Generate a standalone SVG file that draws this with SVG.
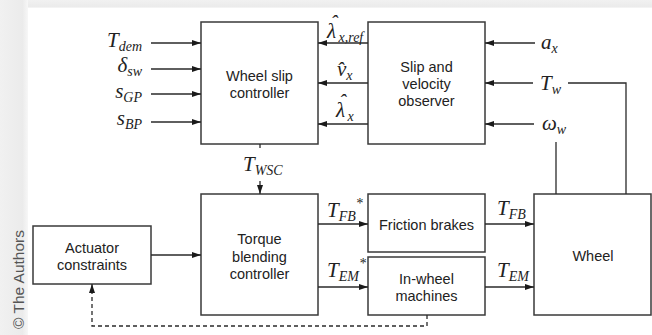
<svg xmlns="http://www.w3.org/2000/svg" width="652" height="335" viewBox="0 0 652 335">
<style>
.box{fill:#fff;stroke:#3a3a3a;stroke-width:1.5}
.t{font-family:"Liberation Sans",Arial,sans-serif;font-size:14.5px;fill:#222;text-anchor:middle}
.m{font-family:"Liberation Serif","Times New Roman",serif;font-style:italic;font-size:21px;fill:#222}
.s{font-size:14px}
.c{fill:none;stroke:#2a2a2a;stroke-width:1.3}
.a{marker-end:url(#ah)}
.d{stroke-dasharray:4 3}
</style>
<defs>
<marker id="ah" markerUnits="userSpaceOnUse" markerWidth="9" markerHeight="6" refX="9" refY="3" orient="auto">
<path d="M0,0 L9,3 L0,6 z" fill="#1a1a1a"/>
</marker>
<linearGradient id="gl" x1="0" y1="0" x2="1" y2="0">
<stop offset="0" stop-color="#f1f1f1"/><stop offset="0.8" stop-color="#ebebeb"/><stop offset="1" stop-color="#f7f7f7"/>
</linearGradient>
<linearGradient id="gt" x1="0" y1="0" x2="0" y2="1">
<stop offset="0" stop-color="#f1f1f1"/><stop offset="0.8" stop-color="#ebebeb"/><stop offset="1" stop-color="#f7f7f7"/>
</linearGradient>
</defs>
<rect x="0" y="0" width="652" height="335" fill="#f1f1f1"/>
<rect x="0" y="0" width="28" height="335" fill="url(#gl)"/>
<rect x="28" y="0" width="624" height="8" fill="url(#gt)"/>
<rect x="28" y="8" width="624" height="327" fill="#fff"/>
<text transform="translate(24,329) rotate(-90)" font-family="Liberation Sans,Arial,sans-serif" font-size="15.5" fill="#555">© The Authors</text>

<g id="wsc"><rect class="box" x="201" y="22" width="117" height="122"/>
<text class="t" x="259.5" y="81">Wheel slip</text><text class="t" x="259.5" y="98">controller</text></g>
<g id="obs"><rect class="box" x="368" y="22" width="117" height="122"/>
<text class="t" x="426.5" y="72">Slip and</text><text class="t" x="426.5" y="89">velocity</text><text class="t" x="426.5" y="106">observer</text></g>
<g id="tbc"><rect class="box" x="201" y="194" width="117" height="121"/>
<text class="t" x="259.5" y="244">Torque</text><text class="t" x="259.5" y="262">blending</text><text class="t" x="259.5" y="279">controller</text></g>
<g id="fb"><rect class="box" x="368" y="194" width="117" height="58"/>
<text class="t" x="426.5" y="230">Friction brakes</text></g>
<g id="iwm"><rect class="box" x="368" y="257" width="117" height="58"/>
<text class="t" x="426.5" y="284">In-wheel</text><text class="t" x="426.5" y="301">machines</text></g>
<g id="wheel"><rect class="box" x="534" y="194" width="117" height="121"/>
<text class="t" x="593" y="261">Wheel</text></g>
<g id="act"><rect class="box" x="33" y="226" width="118" height="58"/>
<text class="t" x="92" y="253">Actuator</text><text class="t" x="92" y="270">constraints</text></g>

<g id="connectors">
<line class="c a" x1="151" y1="43" x2="201" y2="43"/>
<line class="c a" x1="151" y1="69" x2="201" y2="69"/>
<line class="c a" x1="151" y1="94" x2="201" y2="94"/>
<line class="c a" x1="151" y1="122" x2="201" y2="122"/>
<line class="c a" x1="368" y1="43" x2="318" y2="43"/>
<line class="c a" x1="368" y1="83" x2="318" y2="83"/>
<line class="c a" x1="368" y1="124" x2="318" y2="124"/>
<line class="c a" x1="535" y1="43" x2="485" y2="43"/>
<line class="c a" x1="533" y1="83" x2="485" y2="83"/>
<line class="c a" x1="534" y1="124" x2="485" y2="124"/>
<polyline class="c" points="568,83 626,83 626,194"/>
<line class="c" x1="556" y1="142" x2="556" y2="194"/>
<line class="c" x1="260" y1="144" x2="260" y2="148"/>
<line class="c a" x1="260" y1="181" x2="260" y2="194"/>
<line class="c a" x1="318" y1="224" x2="368" y2="224"/>
<line class="c a" x1="318" y1="287" x2="368" y2="287"/>
<line class="c a" x1="485" y1="224" x2="534" y2="224"/>
<line class="c a" x1="485" y1="287" x2="534" y2="287"/>
<line class="c a" x1="151" y1="255" x2="201" y2="255"/>
<polyline class="c d a" points="427,315 427,326 92,326 92,284"/>
</g>

<g id="labels">
<text class="m" x="142" y="47" text-anchor="end">T<tspan class="s" dy="4">dem</tspan></text>
<text class="m" x="142" y="72" text-anchor="end">δ<tspan class="s" dy="4">sw</tspan></text>
<text class="m" x="142" y="98" text-anchor="end">s<tspan class="s" dy="4">GP</tspan></text>
<text class="m" x="142" y="125" text-anchor="end">s<tspan class="s" dy="4">BP</tspan></text>

<text class="m" x="327" y="38">λ<tspan x="330.5" dy="-8">ˆ</tspan><tspan class="s" x="338.5" dy="12">x,ref</tspan></text>
<text class="m" x="337" y="76">v̂<tspan class="s" dy="4">x</tspan></text>
<text class="m" x="336" y="117">λ<tspan x="339" dy="-8">ˆ</tspan><tspan class="s" x="347.5" dy="12">x</tspan></text>

<text class="m" x="541" y="49">a<tspan class="s" dy="4">x</tspan></text>
<text class="m" x="540" y="90">T<tspan class="s" dy="4">w</tspan></text>
<text class="m" x="542" y="130">ω<tspan class="s" dy="4">w</tspan></text>

<text class="m" x="243" y="171">T<tspan class="s" dy="4">WSC</tspan></text>
<text class="m" x="327" y="217">T<tspan class="s" dy="4">FB</tspan><tspan class="s" dy="-13">*</tspan></text>
<text class="m" x="327" y="277">T<tspan class="s" dy="4">EM</tspan><tspan class="s" dy="-13">*</tspan></text>
<text class="m" x="497" y="215">T<tspan class="s" dy="4">FB</tspan></text>
<text class="m" x="497" y="277">T<tspan class="s" dy="4">EM</tspan></text>
</g>
</svg>
